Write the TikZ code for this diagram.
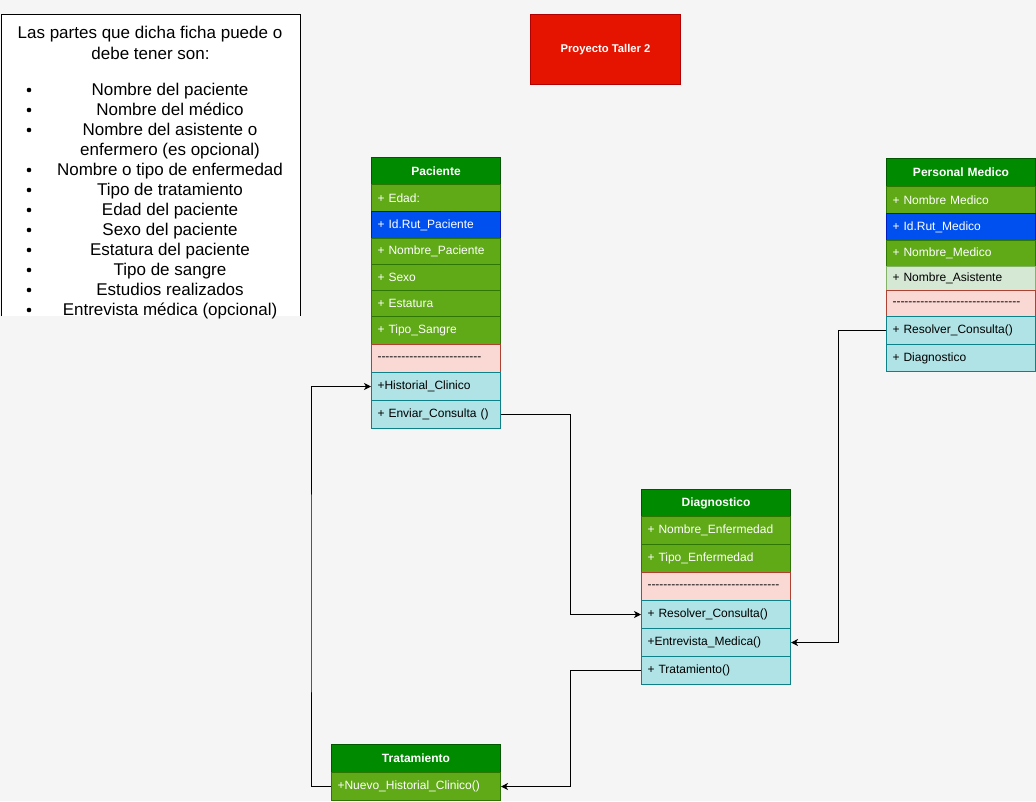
\documentclass[tikz,border=0pt]{standalone}
\usepackage{fontspec}
\setmainfont{Liberation Sans}
\usetikzlibrary{arrows.meta}

\definecolor{bgc}{HTML}{F5F5F5}
\definecolor{hdfill}{HTML}{008A00}\definecolor{hdline}{HTML}{005700}
\definecolor{gnfill}{HTML}{60A917}\definecolor{gnline}{HTML}{2D7600}
\definecolor{blfill}{HTML}{0050EF}\definecolor{blline}{HTML}{001DBC}
\definecolor{pkfill}{HTML}{FAD9D5}\definecolor{pkline}{HTML}{AE4132}
\definecolor{cyfill}{HTML}{B0E3E6}\definecolor{cyline}{HTML}{0E8088}
\definecolor{lgfill}{HTML}{D5E8D4}\definecolor{lgline}{HTML}{82B366}
\definecolor{rdfill}{HTML}{E51400}\definecolor{rdline}{HTML}{B20000}

% a row of hyphens without TeX ligatures
\newcommand{\dashrow}[1]{\foreach \k in {1,...,#1}{-\kern0pt}}

\tikzset{
  cell/.style 2 args={draw, anchor=north west, inner xsep=6pt, inner ysep=0pt,
    text width=#1-12pt, minimum height=#2, align=left, line width=1pt,
    font=\fontsize{12}{14}\selectfont},
  hdrow/.style={fill=hdfill, draw=hdline, text=white, align=center,
    font=\fontsize{12}{14}\selectfont\bfseries},
  gnrow/.style={fill=gnfill, draw=gnline, text=white},
  blrow/.style={fill=blfill, draw=blline, text=white},
  pkrow/.style={fill=pkfill, draw=pkline},
  cyrow/.style={fill=cyfill, draw=cyline},
  lgrow/.style={fill=lgfill, draw=lgline},
  conn/.style={draw=black, line width=1pt, -{Stealth[length=7pt,width=7pt,inset=2pt]}},
  note/.style={font=\fontsize{17}{20}\selectfont, inner sep=0pt, anchor=base},
}

\begin{document}
\begin{tikzpicture}[x=1pt,y=-1pt]
\useasboundingbox (0,0) rectangle (1036,801);
\fill[bgc] (0,0) rectangle (1036,801);

% ---- note box with the list of record fields
\fill[white] (1,14) rectangle (300,316);
\draw[line width=1pt] (1,316) -- (1,14) -- (300,14) -- (300,316);
\node[note] (n0) at (150,38) {Las partes que dicha ficha puede o};
\node[note] (n1) at (150.5,59) {debe tener son:};
\foreach \t/\yy/\b [count=\i] in {
  Nombre del paciente/89/1,
  Nombre del médico/109/1,
  Nombre del asistente o/129/1,
  enfermero (es opcional)/149/0,
  Nombre o tipo de enfermedad/169/1,
  Tipo de tratamiento/189/1,
  Edad del paciente/209/1,
  Sexo del paciente/229/1,
  Estatura del paciente/249/1,
  Tipo de sangre/269/1,
  Estudios realizados/289/1,
  Entrevista médica (opcional)/309/1}{
  \node[note] (li\i) at (170,\yy+6) {\t};
  \ifnum\b=1 \fill (29,\yy+1) circle (2.3pt); \fi
}

% ---- title
\node[draw=rdline, fill=rdfill, line width=1pt, minimum width=150pt, minimum height=70pt,
  anchor=north west, text=white, font=\fontsize{11.25}{13}\selectfont\bfseries]
  (title) at (530,14) {Proyecto Taller 2};

% ---- Paciente
\node[cell={129pt}{27pt}, hdrow] (pH) at (371,157) {Paciente};
\node[cell={129pt}{27pt}, gnrow] (p1) at (371,184) {+ Edad:};
\node[cell={129pt}{27pt}, blrow] (p2) at (371,211) {+ Id.Rut\_Paciente};
\node[cell={129pt}{26pt}, gnrow] (p3) at (371,238) {+ Nombre\_Paciente};
\node[cell={129pt}{26pt}, gnrow] (p4) at (371,264) {+ Sexo};
\node[cell={129pt}{26pt}, gnrow] (p5) at (371,290) {+ Estatura};
\node[cell={129pt}{28pt}, gnrow] (p6) at (371,316) {+ Tipo\_Sangre};
\node[cell={129pt}{28pt}, pkrow] (p7) at (371,344) {\dashrow{26}};
\node[cell={129pt}{28pt}, cyrow] (pHist) at (371,372) {+Historial\_Clinico};
\node[cell={129pt}{28pt}, cyrow] (pEnv) at (371,400) {+ Enviar\_Consulta ()};

% ---- Personal Medico
\node[cell={149pt}{28pt}, hdrow] (mH) at (886,158) {Personal Medico};
\node[cell={149pt}{27pt}, gnrow] (m1) at (886,186) {+ Nombre Medico};
\node[cell={149pt}{27pt}, blrow] (m2) at (886,213) {+ Id.Rut\_Medico};
\node[cell={149pt}{26pt}, gnrow] (m3) at (886,240) {+ Nombre\_Medico};
\node[cell={149pt}{24pt}, lgrow] (m4) at (886,266) {+ Nombre\_Asistente};
\node[cell={149pt}{26pt}, pkrow] (m5) at (886,290) {\dashrow{32}};
\node[cell={149pt}{28pt}, cyrow] (mRes) at (886,316) {+ Resolver\_Consulta()};
\node[cell={149pt}{27pt}, cyrow] (m7) at (886,344) {+ Diagnostico};

% ---- Diagnostico
\node[cell={149pt}{27pt}, hdrow] (dH) at (641,489) {Diagnostico};
\node[cell={149pt}{28pt}, gnrow] (d1) at (641,516) {+ Nombre\_Enfermedad};
\node[cell={149pt}{28pt}, gnrow] (d2) at (641,544) {+ Tipo\_Enfermedad};
\node[cell={149pt}{28pt}, pkrow] (d3) at (641,572) {\dashrow{33}};
\node[cell={149pt}{28pt}, cyrow] (dRes) at (641,600) {+ Resolver\_Consulta()};
\node[cell={149pt}{28pt}, cyrow] (dEnt) at (641,628) {+Entrevista\_Medica()};
\node[cell={149pt}{28pt}, cyrow] (dTra) at (641,656) {+ Tratamiento()};

% ---- Tratamiento
\node[cell={169pt}{28pt}, hdrow] (tH) at (331,744) {Tratamiento};
\node[cell={169pt}{28pt}, gnrow] (tNew) at (331,772) {+Nuevo\_Historial\_Clinico()};

% ---- connectors
\coordinate (b1) at (570.5,500);
\coordinate (b2) at (838,500);
\coordinate (b3) at (570.5,700);
\coordinate (b4) at (311,600);
\draw[conn] (pEnv.east) -| (b1) |- (dRes.west);
\draw[conn] (mRes.west) -| (b2) |- (dEnt.east);
\draw[conn] (dTra.west) -| (b3) |- (tNew.east);
\draw[conn] (tNew.west) -| (b4) |- (pHist.west);
\end{tikzpicture}
\end{document}
